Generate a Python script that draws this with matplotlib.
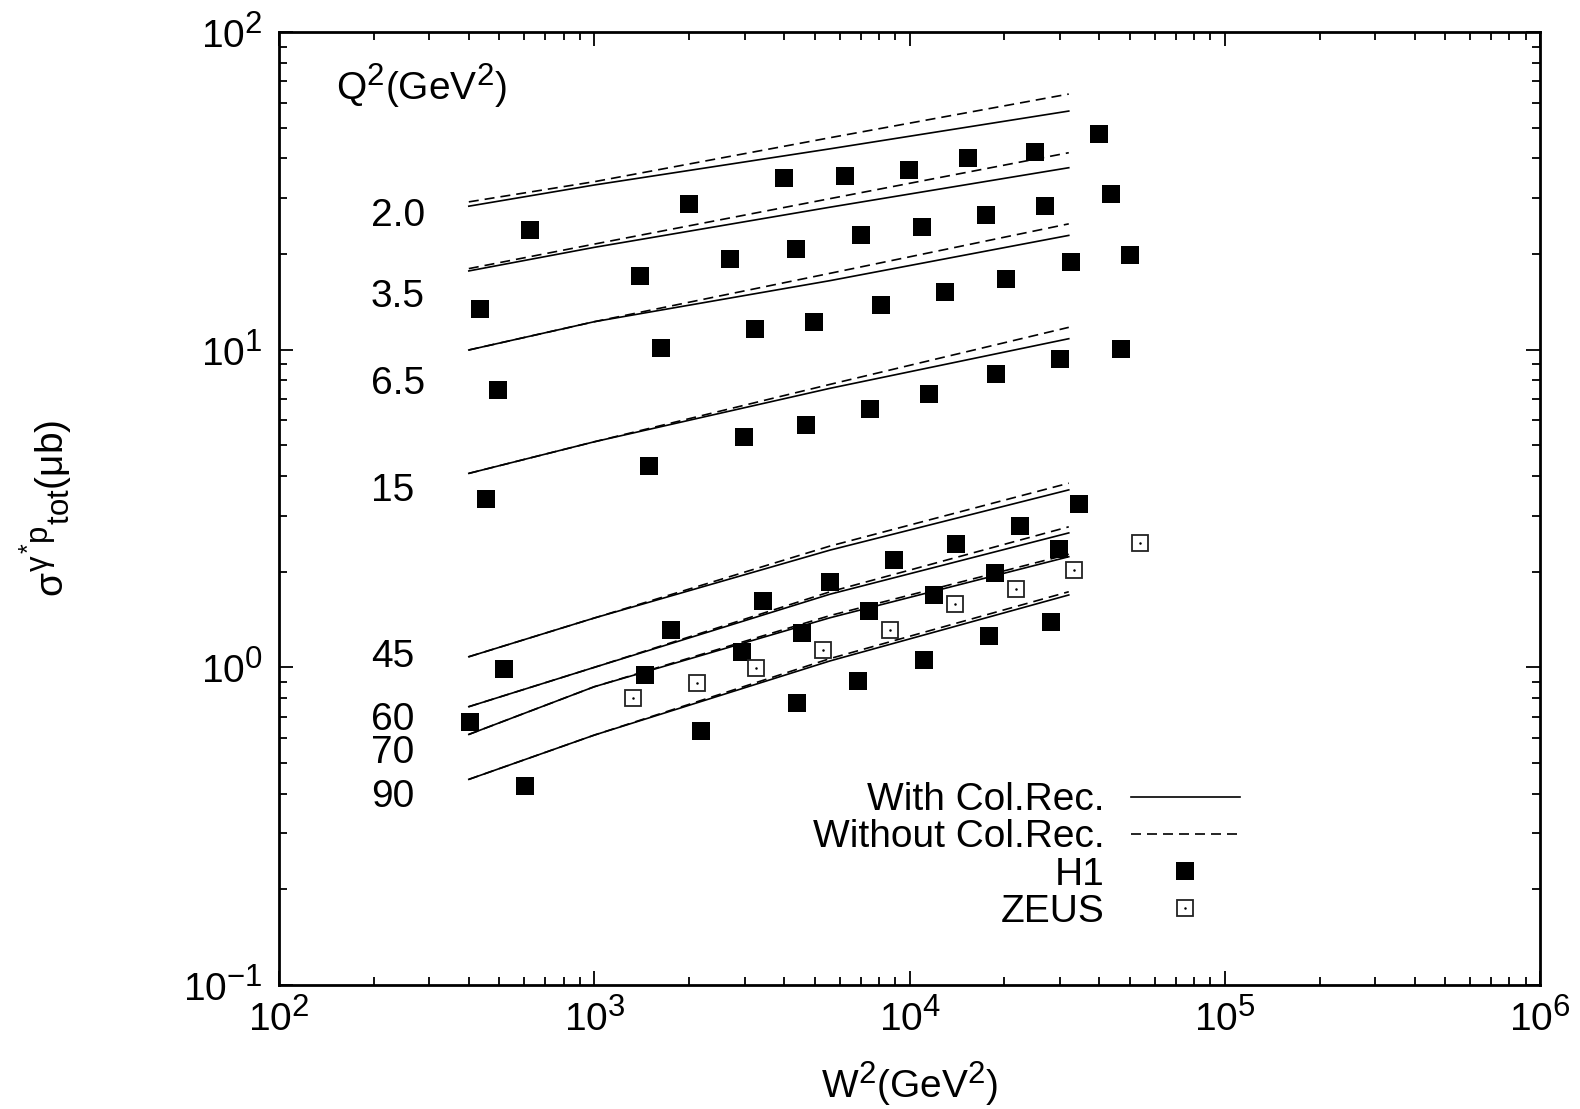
import matplotlib
matplotlib.use("Agg")
import matplotlib.pyplot as plt
import matplotlib._mathtext as mathtext_intern
from matplotlib.lines import Line2D

plt.rcParams["font.family"] = ["Liberation Sans", "DejaVu Sans"]
plt.rcParams["mathtext.fontset"] = "custom"
plt.rcParams["mathtext.rm"] = "Liberation Sans"
plt.rcParams["mathtext.it"] = "Liberation Sans"
plt.rcParams["mathtext.sf"] = "Liberation Sans"
plt.rcParams["axes.unicode_minus"] = False
# hochgestellte Zeichen etwas groesser (wie gnuplot, 0.8)
mathtext_intern.SHRINK_FACTOR = 0.8

# Theorie-Kurven (W^2-Stuetzstellen, GeV^2)
w2_theory = [400, 1000, 5600, 32000]
q2_labels = ["2.0", "3.5", "6.5", "15", "45", "60", "70", "90"]

# mit colour reconnection (durchgezogen)
with_cr = [
    [28.3, 33.0, 42.9, 56.4],
    [17.7, 21.0, 28.1, 37.4],
    [9.98, 12.25, 16.5, 22.9],
    [4.08, 5.13, 7.56, 10.83],
    [1.080, 1.43, 2.34, 3.62],
    [0.752, 1.00, 1.70, 2.65],
    [0.615, 0.869, 1.433, 2.23],
    [0.444, 0.612, 1.048, 1.69],
]
# ohne colour reconnection (gestrichelt)
without_cr = [
    [29.2, 33.8, 46.5, 63.8],
    [18.0, 21.5, 29.9, 41.7],
    [9.98, 12.25, 17.4, 24.9],
    [4.08, 5.13, 7.78, 11.76],
    [1.080, 1.43, 2.41, 3.80],
    [0.752, 1.00, 1.73, 2.77],
    [0.615, 0.869, 1.456, 2.27],
    [0.444, 0.612, 1.066, 1.73],
]

# H1 Daten
h1_w2 = [
    [626, 2000, 4000, 6245, 9960, 15340, 25000, 39900],
    [434, 1397, 2696, 4365, 7020, 10960, 17480, 26900, 43570],
    [495, 1628, 3235, 4980, 8121, 12960, 20240, 32540, 50060],
    [453, 1492, 2985, 4696, 7494, 11530, 18810, 30020, 46870],
    [517, 1752, 3430, 5594, 8930, 14040, 22410, 34490],
    [403, 1449, 2942, 4560, 7439, 11960, 18670, 29800],
    [603, 2181, 4396, 6864, 11120, 17880, 28110],
]
h1_sigma = [
    [23.8, 28.7, 34.7, 35.2, 36.8, 40.1, 41.9, 47.7],
    [13.4, 17.1, 19.3, 20.7, 23.0, 24.3, 26.5, 28.3, 30.9],
    [7.46, 10.1, 11.6, 12.2, 13.8, 15.2, 16.7, 18.9, 19.9],
    [3.39, 4.30, 5.31, 5.79, 6.51, 7.25, 8.38, 9.35, 10.05],
    [0.988, 1.311, 1.617, 1.856, 2.177, 2.444, 2.786, 3.268],
    [0.673, 0.946, 1.118, 1.283, 1.504, 1.689, 1.982, 2.358],
    [0.423, 0.630, 0.772, 0.906, 1.055, 1.255, 1.389],
]

# ZEUS Daten
zeus_w2 = [1327, 2118, 3259, 5316, 8672, 13940, 21760, 33250, 53850]
zeus_sigma = [0.801, 0.893, 0.995, 1.134, 1.311, 1.582, 1.765, 2.025, 2.462]

# Position der Q^2-Beschriftung (Achsenanteil)
label_x = 0.0728
label_y = [0.7962, 0.7117, 0.6207, 0.5078, 0.3334, 0.2678, 0.2330, 0.1864]

fs = 28
fig = plt.figure(figsize=(15.8, 11.09), dpi=100)
ax = fig.add_axes([0.1766, 0.1118, 0.7981, 0.8593])

for vals in with_cr:
    ax.plot(w2_theory, vals, color="k", lw=1.2)
for vals in without_cr:
    ax.plot(w2_theory, vals, color="k", lw=1.2, ls=(0, (6, 3.6)))

for w, s in zip(h1_w2, h1_sigma):
    ax.plot(w, s, "s", color="k", ms=13, mew=0, ls="none")

ax.plot(zeus_w2, zeus_sigma, "s", mfc="white", mec="#222222", mew=1.3, ms=12, ls="none")
ax.plot(zeus_w2, zeus_sigma, "o", color="k", ms=1.8, mew=0, ls="none")

for lab, y in zip(q2_labels, label_y):
    ax.text(label_x, y, lab, transform=ax.transAxes, fontsize=fs, va="baseline")
ax.text(0.0452, 0.9433, r"Q$^2$(GeV$^2$)", transform=ax.transAxes, fontsize=fs, va="center")

ax.set_xscale("log")
ax.set_yscale("log")
ax.set_xlim(1e2, 1e6)
ax.set_ylim(0.1, 100)

ax.tick_params(which="both", direction="in", top=True, right=True, width=1.3)
ax.tick_params(which="major", length=10, labelsize=fs)
ax.tick_params(axis="x", which="major", pad=10)
ax.tick_params(axis="y", which="major", pad=12)
ax.tick_params(which="minor", length=5.5)
for sp in ax.spines.values():
    sp.set_linewidth(2)

ax.set_xlabel(r"W$^2$(GeV$^2$)", fontsize=fs)
ax.xaxis.set_label_coords(0.5, -0.079)
ax.set_ylabel(r"$\sigma^{\gamma^{*}p}{}_{\mathrm{tot}}(\mu\mathrm{b})$", fontsize=fs)
ax.yaxis.set_label_coords(-0.162, 0.5)

# Legende: Text rechtsbuendig, Symbol rechts
h_with = Line2D([], [], color="k", lw=1.2)
h_without = Line2D([], [], color="k", lw=1.2, ls=(0, (6, 3.6)))
h_h1 = Line2D([], [], marker="s", color="k", ms=13, mew=0, ls="none")
h_zeus_box = Line2D([], [], marker="s", mfc="white", mec="#222222", mew=1.3, ms=12, ls="none")
h_zeus_dot = Line2D([], [], marker="o", color="k", ms=1.8, mew=0, ls="none")
ax.legend([h_with, h_without, h_h1, (h_zeus_box, h_zeus_dot)],
          ["With Col.Rec.", "Without Col.Rec.", "H1", "ZEUS"],
          loc="lower right", bbox_to_anchor=(0.762, 0.058), markerfirst=False,
          frameon=False, fontsize=fs, handlelength=2.8, handletextpad=0.67,
          labelspacing=0.03, borderpad=0, borderaxespad=0, numpoints=1)

fig.savefig("out.png", dpi=100)
